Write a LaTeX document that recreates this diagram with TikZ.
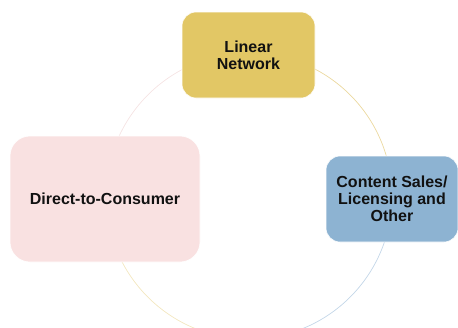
\documentclass[tikz,border=0pt]{standalone}
\usepackage{fontspec}
\setmainfont{Liberation Sans}
\definecolor{goldfill}{HTML}{E2C765}
\definecolor{pinkfill}{HTML}{F9E1E1}
\definecolor{bluefill}{HTML}{8DB3D2}
\definecolor{ringgold}{HTML}{EBD89E}
\definecolor{ringblue}{HTML}{C3D6E8}
\definecolor{ringyellow}{HTML}{F3E7BF}
\definecolor{ringpink}{HTML}{F5E3E3}
\definecolor{txt}{HTML}{111111}
\begin{document}
\begin{tikzpicture}[x=1pt,y=-1pt,
  box/.style={draw=white, line width=0.6pt, align=center, text=txt,
    font=\fontsize{16}{17.2}\selectfont\bfseries, inner sep=0pt},
  ring/.style={line width=0.7pt}]
\useasboundingbox (0,0) rectangle (458,327);
\coordinate (c) at (249,196);
\draw[ring, ringgold]   (c) ++(-90:143) arc[start angle=-90, end angle=0, radius=143];
\draw[ring, ringblue]   (c) ++(0:143)   arc[start angle=0, end angle=90, radius=143];
\draw[ring, ringyellow] (c) ++(90:143)  arc[start angle=90, end angle=180, radius=143];
\draw[ring, ringpink]   (c) ++(180:143) arc[start angle=180, end angle=270, radius=143];
\node[box, fill=goldfill, rounded corners=14pt, minimum width=133pt, minimum height=86pt] (lin) at (248.5,55) {Linear\\Network};
\node[box, fill=pinkfill, rounded corners=20pt, minimum width=190pt, minimum height=126pt] (dtc) at (105,199) {Direct-to-Consumer};
\node[box, fill=bluefill, rounded corners=14pt, minimum width=132pt, minimum height=86pt] (cs) at (392,199) {Content Sales/\\Licensing and\\Other};
\end{tikzpicture}
\end{document}
